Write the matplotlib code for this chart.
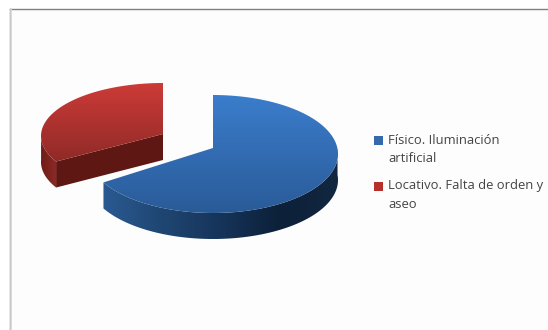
import numpy as np
from matplotlib import pyplot as plt
from matplotlib.colors import LinearSegmentedColormap as LSC
from matplotlib.patches import Polygon, Rectangle

labels = ['Físico. Iluminación\nartificial', 'Locativo. Falta de orden y\naseo']
values = [67, 33]
top_cols = [['#3b7dcc', '#2a5b98'], ['#cc3b37', '#8f2a27']]
key_cols = ['#3469ad', '#b5302c']

W, H = 548, 330
depth = 26
# centre x, centre y, radius x, radius y, apex y
blue = (213, 154, 125, 59, 148)
red = (163, 136, 122, 53, 134)

fig = plt.figure(figsize=(W/100, H/100), dpi=100)
ax = fig.add_axes([0, 0, 1, 1])
ax.set_xlim(0, W)
ax.set_ylim(H, 0)
ax.axis('off')

def arc(t0, t1, s):
  t = np.radians(np.linspace(t0, t1, 120))
  return np.c_[s[0]+s[2]*np.sin(t), s[1]-s[3]*np.cos(t)]

def grad(poly, cols, vertical=True):
  # gradient image clipped to a polygon
  x0, y0 = poly.min(0)
  x1, y1 = poly.max(0)
  g = np.linspace(0, 1, 256)
  g = g.reshape(-1, 1) if vertical else g.reshape(1, -1)
  im = ax.imshow(g, extent=(x0, x1, y1, y0), aspect='auto',
                 cmap=LSC.from_list('g', cols), zorder=3)
  p = Polygon(poly, closed=True, fc='none', ec='none', transform=ax.transData)
  ax.add_patch(p)
  im.set_clip_path(p)

def side(t0, t1, s, cols):
  a = arc(t0, t1, s)
  grad(np.vstack([a, (a+[0, depth])[::-1]]), cols, vertical=False)

ends = np.cumsum(values)/np.sum(values)*360

# panel
ax.add_patch(Rectangle((10, 9), W-10, H-9, fc='#fdfdfd', ec='none', zorder=0))

# blue slice
side(85, ends[0], blue, ['#2a5a92', '#1f4672', '#16345a', '#0c2038', '#122840'][::-1][::-1])
grad(np.vstack([[blue[0], blue[4]], arc(0, ends[0], blue)]), top_cols[0])

# red slice, pulled out
a0 = arc(ends[0], ends[0], red)[0]
ap = np.array([red[0], red[4]])
ax.add_patch(Polygon([ap, a0, a0+[0, depth], ap+[0, depth]], fc='#5e1713', ec='none', zorder=3))
side(ends[0], 272, red, ['#6e1c18', '#8f2a26'])
grad(np.vstack([ap, arc(ends[0], 360, red)]), top_cols[1])

# frame
ax.plot([9.5, 9.5], [H, 8.5], color='#808080', lw=1)
ax.plot([9.5, W], [8.5, 8.5], color='#808080', lw=1)
ax.plot([11, 11], [H, 9], color='#d8d8d8', lw=1.2)

# legend
for lab, col, ky in zip(labels, key_cols, [140, 186]):
  ax.add_patch(Rectangle((374, ky-4.5), 9, 9, fc=col, ec='none'))
  l1, l2 = lab.split('\n')
  ax.text(388, ky, l1, va='center', ha='left', fontsize=9.4, color='#444444', family='Open Sans')
  ax.text(388, ky+18, l2, va='center', ha='left', fontsize=9.4, color='#444444', family='Open Sans')

ax.set_xlim(0, W)
ax.set_ylim(H, 0)
fig.savefig('out.png', dpi=100)
